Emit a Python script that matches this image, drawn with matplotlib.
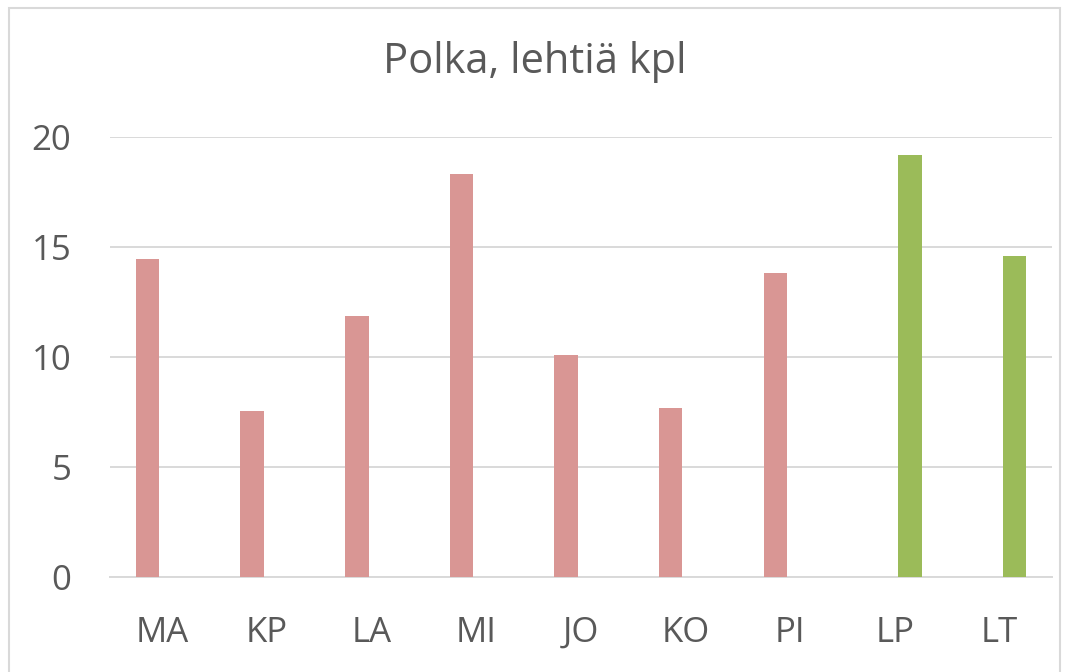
import matplotlib.pyplot as plt
import numpy as np
from matplotlib.patches import Rectangle

plt.rcParams['font.family'] = ['Open Sans', 'DejaVu Sans']

categories = ['MA', 'KP', 'LA', 'MI', 'JO', 'KO', 'PI', 'LP', 'LT']
pink_values = [14.45, 7.55, 11.85, 18.3, 10.1, 7.7, 13.8, np.nan, np.nan]
green_values = [np.nan, np.nan, np.nan, np.nan, np.nan, np.nan, np.nan, 19.2, 14.6]
yticks = [0, 5, 10, 15, 20]

fig = plt.figure(figsize=(10.69, 6.72), dpi=100)
ax = fig.add_axes([0.103, 0.1414, 0.881, 0.6548])

x = np.arange(len(categories))
ax.bar(x - 0.143, pink_values, width=0.225, color='#D99694', zorder=3)
ax.bar(x + 0.143, green_values, width=0.225, color='#9BBB59', zorder=3)

ax.set_xlim(-0.5, len(categories) - 0.5)
ax.set_ylim(0, 20)
ax.set_yticks(yticks)
ax.set_xticks(x)
ax.set_xticklabels(categories)

ax.grid(axis='y', color='#D9D9D9', linewidth=1.4, zorder=0)
for s in ['top', 'right', 'left']:
    ax.spines[s].set_visible(False)
ax.spines['bottom'].set_color('#D9D9D9')
ax.spines['bottom'].set_linewidth(1.4)
ax.tick_params(axis='both', length=0, labelsize=25, colors='#595959')
ax.tick_params(axis='y', pad=28)
ax.tick_params(axis='x', pad=28)

fig.text(0.5, 0.891, 'Polka, lehtiä kpl', ha='center', va='baseline',
         fontsize=30, color='#595959')

fig.patches.append(Rectangle((0.008, -0.02), 0.984, 1.008, transform=fig.transFigure,
                             fill=False, edgecolor='#D9D9D9', linewidth=1.5))

fig.savefig('out.png', dpi=100)
